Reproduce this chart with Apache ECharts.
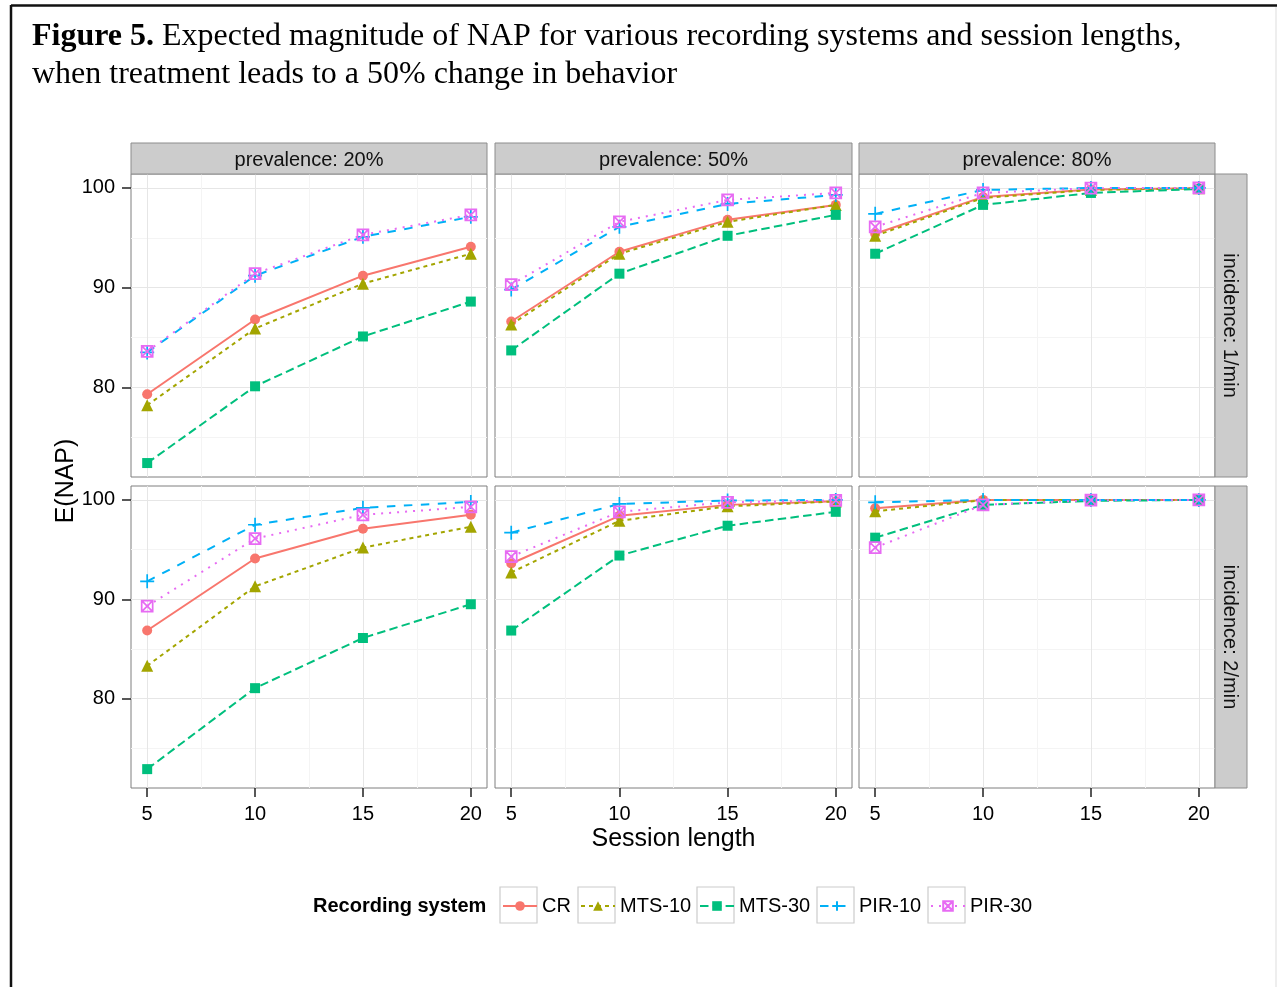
<!DOCTYPE html>
<html>
<head>
<meta charset="utf-8">
<script src="https://cdn.jsdelivr.net/npm/echarts@6/dist/echarts.min.js"></script>
<style>
html,body{margin:0;padding:0;background:#fff;}
#chart{width:1277px;height:987px;}
</style>
</head>
<body>
<div id="chart"></div>
<script>
// ---------- data ----------
const sessionLengths = [5, 10, 15, 20];
const xTickValues = [5, 10, 15, 20];
const yTickValues = [80, 90, 100];
const systems = ['CR', 'MTS-10', 'MTS-30', 'PIR-10', 'PIR-30'];
const prevalenceLabels = ['prevalence: 20%', 'prevalence: 50%', 'prevalence: 80%'];
const incidenceLabels = ['incidence: 1/min', 'incidence: 2/min'];

// each panel: rows in order CR, MTS-10, MTS-30, PIR-10, PIR-30 ; columns = session length 5,10,15,20
const inc1_prev20 = [
  [79.3, 86.8, 91.2, 94.1],
  [78.2, 85.9, 90.4, 93.4],
  [72.4, 80.1, 85.1, 88.6],
  [83.5, 91.2, 95.1, 97.1],
  [83.6, 91.4, 95.3, 97.3]
];
const inc1_prev50 = [
  [86.6, 93.6, 96.8, 98.3],
  [86.3, 93.4, 96.6, 98.3],
  [83.7, 91.4, 95.2, 97.3],
  [89.8, 96.1, 98.4, 99.3],
  [90.3, 96.6, 98.8, 99.5]
];
const inc1_prev80 = [
  [95.4, 99.1, 99.85, 99.97],
  [95.2, 99.0, 99.8, 99.97],
  [93.4, 98.3, 99.5, 99.9],
  [97.4, 99.8, 100, 100],
  [96.1, 99.5, 99.98, 100]
];
const inc2_prev20 = [
  [86.85, 94.1, 97.1, 98.5],
  [83.3, 91.3, 95.2, 97.3],
  [72.9, 81.05, 86.1, 89.5],
  [91.8, 97.5, 99.2, 99.8],
  [89.3, 96.1, 98.5, 99.3]
];
const inc2_prev50 = [
  [93.6, 98.4, 99.5, 99.86],
  [92.7, 97.9, 99.35, 99.85],
  [86.85, 94.4, 97.4, 98.8],
  [96.7, 99.6, 99.93, 100],
  [94.3, 98.8, 99.76, 99.95]
];
const inc2_prev80 = [
  [99.15, 100, 100, 100],
  [98.85, 99.98, 100, 100],
  [96.2, 99.5, 99.9, 100],
  [99.76, 100, 100, 100],
  [95.2, 99.5, 99.97, 100]
];
const panels = [inc1_prev20, inc1_prev50, inc1_prev80, inc2_prev20, inc2_prev50, inc2_prev80];

// ---------- styles ----------
const colors = ['#F8766D', '#A3A500', '#00BF7D', '#00B0F6', '#E76BF3'];
const dashes = ['solid', [4, 4], [8.5, 4.3], [8.5, 8.5], [2, 6]];
const symbols = ['circle', 'triangle', 'rect', 'path://M0,6.5L13,6.5M6.5,0L6.5,13', 'path://M0,0L10,0L10,10L0,10Z M0,0L10,10 M10,0L0,10'];
const symbolSizes = [10, 12, 10, 14, 11];
const strokedSymbol = [false, false, false, true, true];

const FONT = 'Liberation Sans, Arial, sans-serif';
const colLeft = [131, 495, 859];
const colWidth = [356, 357, 356];
const rowTop = [174, 486];
const rowHeight = [303, 302];
const X_MIN = 4.25, X_MAX = 20.75, Y_MIN = 71.0, Y_MAX = 101.4;

const grids = [], xAxes = [], yAxes = [], series = [];
for (let i = 0; i < 6; i++) {
  const r = Math.floor(i / 3), c = i % 3;
  grids.push({left: colLeft[c], top: rowTop[r], width: colWidth[c], height: rowHeight[r],
    show: true, backgroundColor: '#fff', borderColor: '#7F7F7F', borderWidth: 1, z: 0});
  // major x
  xAxes.push({gridIndex: i, type: 'value', min: X_MIN, max: X_MAX, position: 'bottom',
    axisLine: {show: false},
    axisTick: {show: r === 1, customValues: xTickValues, length: 9, lineStyle: {color: '#222', width: 1.5}},
    axisLabel: {show: r === 1, customValues: xTickValues, margin: 16, fontSize: 20, color: '#000', fontFamily: FONT},
    splitLine: {show: true, lineStyle: {color: '#E6E6E6', width: 1}},
    name: (i === 4 ? 'Session length' : ''), nameLocation: 'middle', nameGap: 39,
    nameTextStyle: {fontSize: 25, color: '#000', fontFamily: FONT}
  });
  // minor x
  xAxes.push({gridIndex: i, type: 'value', min: X_MIN, max: X_MAX, position: 'bottom',
    axisLine: {show: false},
    axisTick: {show: false, customValues: [7.5, 12.5, 17.5]},
    axisLabel: {show: false, customValues: [7.5, 12.5, 17.5]},
    splitLine: {show: true, lineStyle: {color: '#F4F4F4', width: 1}}
  });
  // major y
  yAxes.push({gridIndex: i, type: 'value', min: Y_MIN, max: Y_MAX, position: 'left',
    axisLine: {show: false},
    axisTick: {show: c === 0, customValues: yTickValues, length: 9, lineStyle: {color: '#222', width: 1.5}},
    axisLabel: {show: c === 0, customValues: yTickValues, margin: 16, fontSize: 20, color: '#000', fontFamily: FONT},
    splitLine: {show: true, lineStyle: {color: '#E6E6E6', width: 1}}
  });
  // minor y
  yAxes.push({gridIndex: i, type: 'value', min: Y_MIN, max: Y_MAX, position: 'left',
    axisLine: {show: false},
    axisTick: {show: false, customValues: [75, 85, 95]},
    axisLabel: {show: false, customValues: [75, 85, 95]},
    splitLine: {show: true, lineStyle: {color: '#F4F4F4', width: 1}}
  });
  systems.forEach((name, s) => {
    const vals = panels[i][s];
    series.push({
      name: name, type: 'line', xAxisIndex: 2 * i, yAxisIndex: 2 * i,
      data: sessionLengths.map((x, k) => [x, vals[k]]),
      symbol: symbols[s], symbolSize: symbolSizes[s], showSymbol: true,
      lineStyle: {color: colors[s], width: 2, type: dashes[s]},
      itemStyle: strokedSymbol[s]
        ? {color: 'rgba(255,255,255,0)', borderColor: colors[s], borderWidth: 1.7}
        : {color: colors[s], borderWidth: 0},
      emphasis: {disabled: true},
      z: 3 + s
    });
  });
}

// legend: one component per system, positioned like the reference keys
const legendBoxX = [500, 578, 697, 817, 928];
const legends = systems.map((name, s) => ({
  data: [name], left: legendBoxX[s] + 2, top: 896, padding: 0,
  itemWidth: 34, itemHeight: 12, itemGap: 0,
  textStyle: {fontSize: 20, color: '#000', fontFamily: FONT},
  selectedMode: true
}));

const graphics = [];
// page frame
graphics.push({type: 'line', shape: {x1: 11, y1: 5.5, x2: 1277, y2: 5.5}, style: {stroke: '#111', lineWidth: 2.5}, silent: true});
graphics.push({type: 'line', shape: {x1: 11, y1: 5, x2: 11, y2: 987}, style: {stroke: '#111', lineWidth: 2.5}, silent: true});
graphics.push({type: 'line', shape: {x1: 1276, y1: 7, x2: 1276, y2: 987}, style: {stroke: '#ddd', lineWidth: 1}, silent: true});
// top strips
for (let c = 0; c < 3; c++) {
  graphics.push({type: 'rect', shape: {x: colLeft[c], y: 143, width: colWidth[c], height: 31},
    style: {fill: '#CCCCCC', stroke: '#8C8C8C', lineWidth: 1}, silent: true, z: 1});
  graphics.push({type: 'text', x: colLeft[c] + colWidth[c] / 2, y: 160,
    style: {text: prevalenceLabels[c], fontSize: 20, fontFamily: FONT, fill: '#111', align: 'center', verticalAlign: 'middle'}, silent: true, z: 2});
}
// right strips
for (let r = 0; r < 2; r++) {
  graphics.push({type: 'rect', shape: {x: 1215, y: rowTop[r], width: 32, height: rowHeight[r]},
    style: {fill: '#CCCCCC', stroke: '#8C8C8C', lineWidth: 1}, silent: true, z: 1});
  graphics.push({type: 'text', x: 1230, y: rowTop[r] + rowHeight[r] / 2, rotation: -Math.PI / 2,
    style: {text: incidenceLabels[r], fontSize: 20, fontFamily: FONT, fill: '#111', align: 'center', verticalAlign: 'middle'}, silent: true, z: 2});
}
// y axis title
graphics.push({type: 'text', x: 66, y: 481, rotation: Math.PI / 2,
  style: {text: 'E(NAP)', fontSize: 25, fontFamily: FONT, fill: '#000', align: 'center', verticalAlign: 'middle'}, silent: true});
// legend title
graphics.push({type: 'text', x: 313, y: 906,
  style: {text: 'Recording system', fontSize: 20, fontWeight: 'bold', fontFamily: FONT, fill: '#000', align: 'left', verticalAlign: 'middle'}, silent: true});
// legend key boxes
legendBoxX.forEach(x => {
  graphics.push({type: 'rect', shape: {x: x, y: 887, width: 37, height: 36},
    style: {fill: '#fff', stroke: '#CCCCCC', lineWidth: 1.2}, silent: true, z: -1});
});

const option = {
  animation: false,
  backgroundColor: '#fff',
  title: {
    text: '{b|Figure 5.} Expected magnitude of NAP for various recording systems and session lengths,\nwhen treatment leads to a 50% change in behavior',
    left: 32, top: 18, padding: 0,
    textStyle: {fontFamily: 'Liberation Serif, Times New Roman, serif', fontSize: 32, fontWeight: 'normal', color: '#000', lineHeight: 38,
      rich: {b: {fontFamily: 'Liberation Serif, Times New Roman, serif', fontSize: 32, fontWeight: 'bold', color: '#000', lineHeight: 38}}}
  },
  grid: grids,
  xAxis: xAxes,
  yAxis: yAxes,
  legend: legends,
  series: series,
  graphic: graphics
};
const chart = echarts.init(document.getElementById('chart'), null, {renderer: 'canvas'});
chart.setOption(option);
</script>
</body>
</html>
